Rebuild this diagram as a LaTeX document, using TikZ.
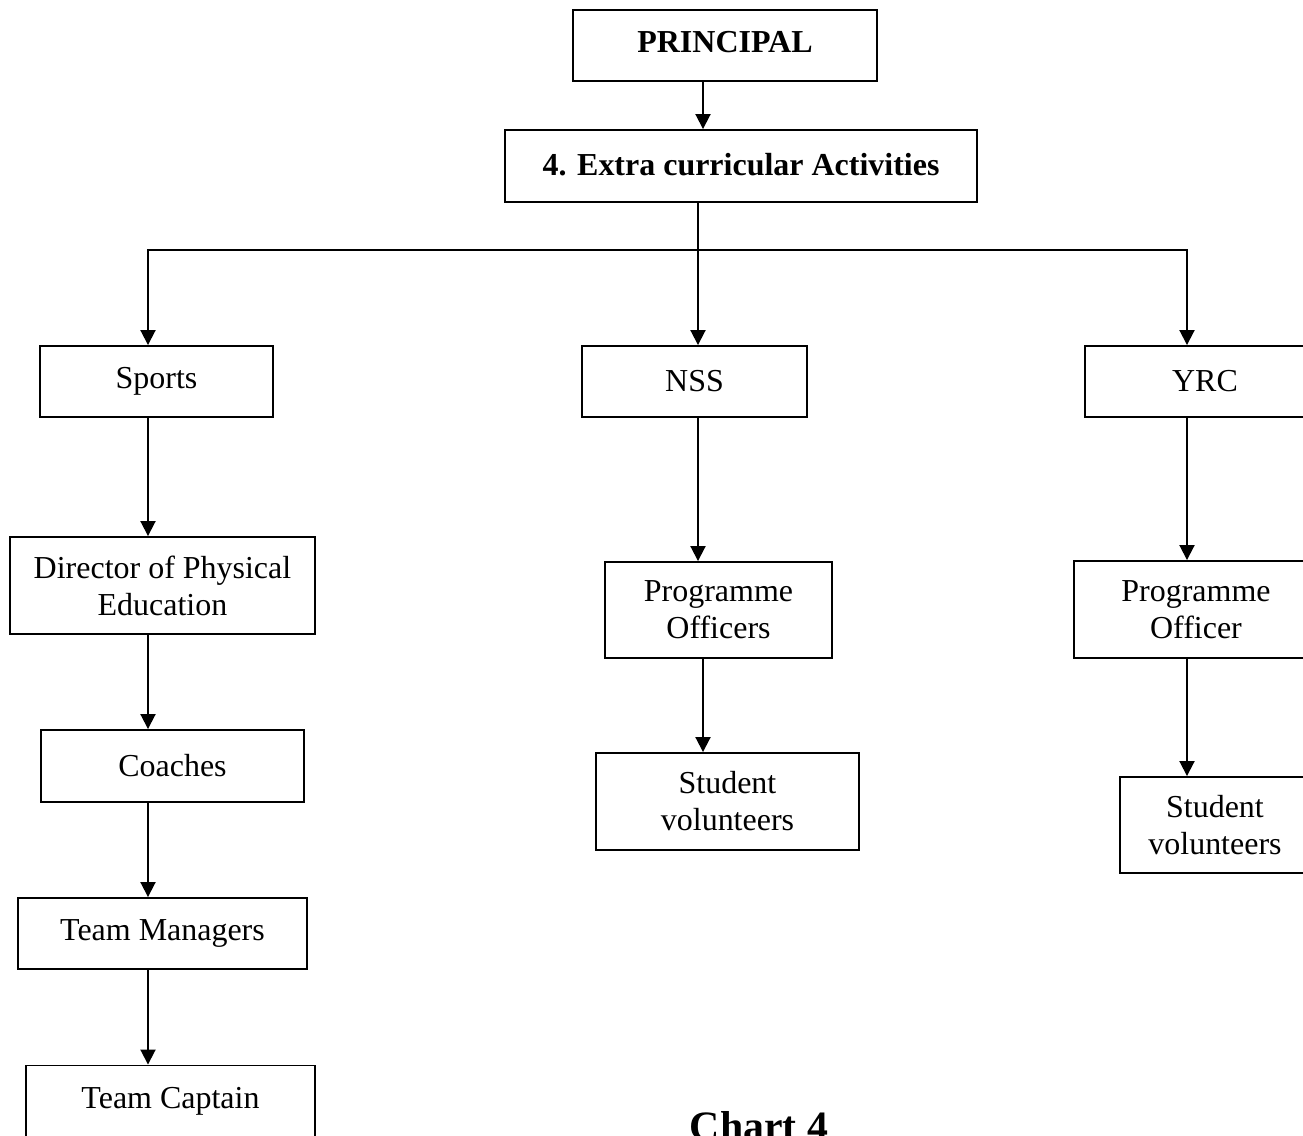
\documentclass[tikz,border=0pt]{standalone}
\usepackage{fontspec}
\setmainfont{Liberation Serif}
\usetikzlibrary{arrows.meta}
\tikzset{
  box/.style={draw, line width=1.1pt, align=center, inner sep=0pt,
    font=\fontsize{18.2}{21}\selectfont},
  bbox/.style={box, font=\fontsize{18.2}{21}\selectfont\bfseries},
  link/.style={line width=1.1pt, -{Triangle[length=0.3cm,width=0.3cm]}},
  bus/.style={line width=1.1pt, line cap=rect}
}
\begin{document}
\begin{tikzpicture}[x=0.02cm, y=-0.02cm]
\clip (0,0) rectangle (1303,1136);
% top of the chart
\node[bbox, minimum width=6.08cm, minimum height=1.42cm] (principal) at (725,45.5) {\raisebox{4pt}{PRINCIPAL}};
\node[bbox, minimum width=9.44cm, minimum height=1.44cm] (eca) at (741,166) {\raisebox{2pt}{4. Extra curricular Activities}};

% the three wings
\node[box, minimum width=4.66cm, minimum height=1.42cm] (sports) at (156.5,381.5) {Sports};
\node[box, minimum width=4.50cm, minimum height=1.42cm] (nss) at (694.5,381.5) {NSS};
\node[box, minimum width=4.80cm, minimum height=1.42cm] (yrc) at (1205,381.5) {YRC};

% sports
\node[box, minimum width=6.10cm, minimum height=1.94cm] (dpe) at (162.5,585.5) {Director of Physical\\Education};
\node[box, minimum width=5.26cm, minimum height=1.44cm] (coach) at (172.5,766) {Coaches};
\node[box, minimum width=5.78cm, minimum height=1.42cm] (tmgr) at (162.5,933.5) {Team Managers};
\node[box, minimum width=5.78cm, minimum height=1.46cm] (tcap) at (170.5,1102) {\raisebox{5pt}{Team Captain}};

% nss
\node[box, minimum width=4.54cm, minimum height=1.92cm] (nsspo) at (718.5,610) {Programme\\Officers};
\node[box, minimum width=5.26cm, minimum height=1.94cm] (nsssv) at (727.5,801.5) {Student\\volunteers};

% yrc
\node[box, minimum width=4.88cm, minimum height=1.94cm] (yrcpo) at (1196,609.5) {Programme\\Officer};
\node[box, minimum width=3.80cm, minimum height=1.92cm] (yrcsv) at (1215,825) {Student\\volunteers};

\node[font=\fontsize{23.8}{28}\selectfont\bfseries, anchor=base] (chart) at (759,1140) {Chart 4};

\coordinate (busl) at (148,250);
\coordinate (busm) at (698,250);
\coordinate (busr) at (1187,250);
\coordinate (colp) at (703,0);

\draw[link] (principal.south -| colp) -- (eca.north -| colp);
\draw[bus] (eca.south -| busm) -- (busm);
\draw[bus] (busl) -- (busr);
\draw[link] (busl) -- (sports.north -| busl);
\draw[link] (busm) -- (nss.north -| busm);
\draw[link] (busr) -- (yrc.north -| busr);

\draw[link] (sports.south -| busl) -- (dpe.north -| busl);
\draw[link] (dpe.south -| busl) -- (coach.north -| busl);
\draw[link] (coach.south -| busl) -- (tmgr.north -| busl);
\draw[link] (tmgr.south -| busl) -- (tcap.north -| busl);

\draw[link] (nss.south -| busm) -- (nsspo.north -| busm);
\draw[link] (nsspo.south -| colp) -- (nsssv.north -| colp);

\draw[link] (yrc.south -| busr) -- (yrcpo.north -| busr);
\draw[link] (yrcpo.south -| busr) -- (yrcsv.north -| busr);
\end{tikzpicture}
\end{document}
